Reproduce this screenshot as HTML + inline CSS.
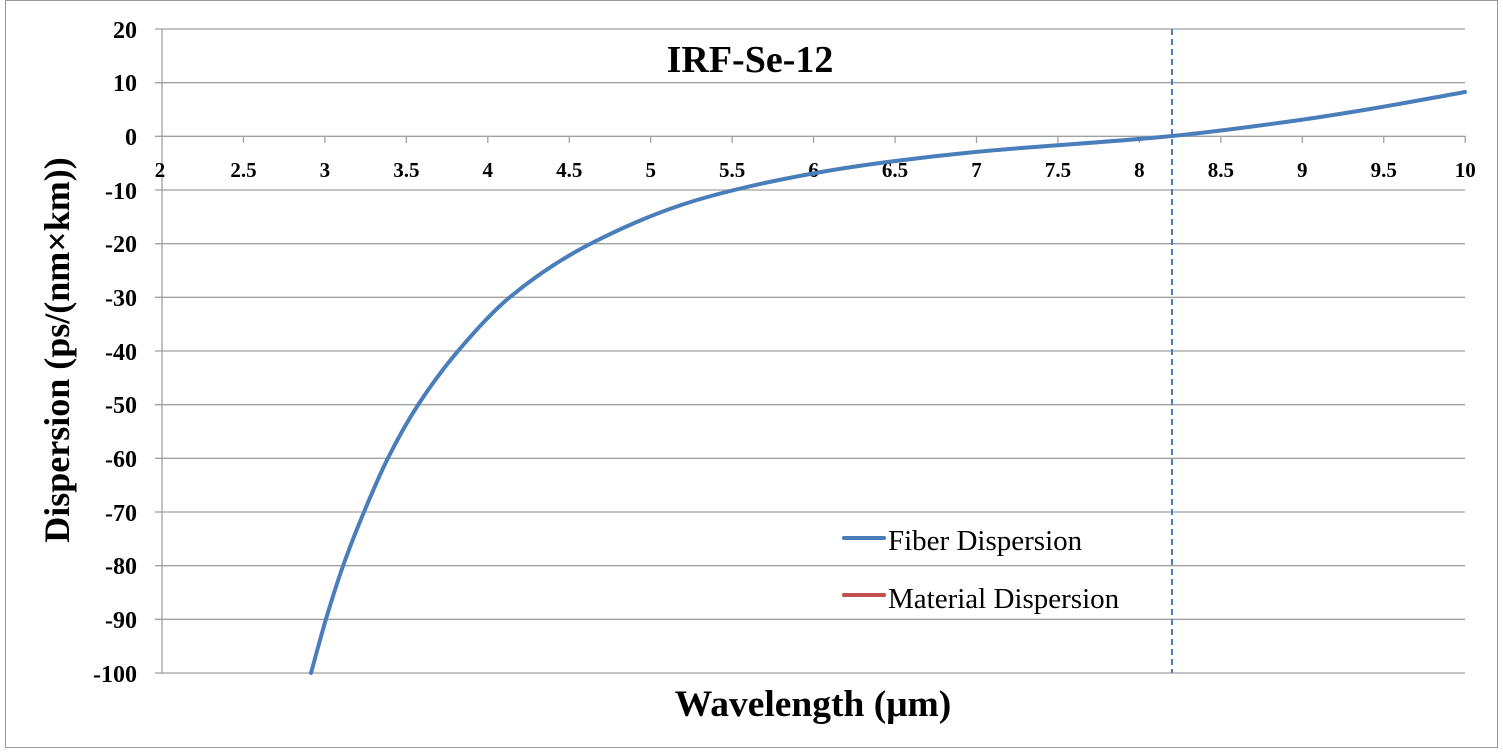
<!DOCTYPE html>
<html><head><meta charset="utf-8"><style>
html,body{margin:0;padding:0;background:#fff}
svg{display:block}
text{font-family:"Liberation Serif",serif}
</style></head><body>
<svg width="1503" height="752" xmlns="http://www.w3.org/2000/svg">
<rect x="5.5" y="0.5" width="1492" height="747" fill="#fff" stroke="#999" stroke-width="1"/>
<g stroke="#a0a0a0" stroke-width="1.3">
<line x1="155" y1="29" x2="1465" y2="29"/>
<line x1="155" y1="82.7" x2="1465" y2="82.7"/>
<line x1="155" y1="190" x2="1465" y2="190"/>
<line x1="155" y1="243.7" x2="1465" y2="243.7"/>
<line x1="155" y1="297.3" x2="1465" y2="297.3"/>
<line x1="155" y1="351" x2="1465" y2="351"/>
<line x1="155" y1="404.7" x2="1465" y2="404.7"/>
<line x1="155" y1="458.3" x2="1465" y2="458.3"/>
<line x1="155" y1="512" x2="1465" y2="512"/>
<line x1="155" y1="565.7" x2="1465" y2="565.7"/>
<line x1="155" y1="619.3" x2="1465" y2="619.3"/>
<line x1="155" y1="673" x2="1465" y2="673"/>
<line x1="155" y1="136.3" x2="1465" y2="136.3"/>
<line x1="162" y1="29" x2="162" y2="673"/>
</g>
<g stroke="#a0a0a0" stroke-width="1.3" id="ticks"></g>
<g font-size="24" font-weight="bold" text-anchor="end">
<text x="137" y="38">20</text><text x="137" y="91">10</text><text x="137" y="145">0</text>
<text x="137" y="199">-10</text><text x="137" y="252">-20</text><text x="137" y="306">-30</text>
<text x="137" y="360">-40</text><text x="137" y="413">-50</text><text x="137" y="467">-60</text>
<text x="137" y="521">-70</text><text x="137" y="574">-80</text><text x="137" y="628">-90</text>
<text x="137" y="682">-100</text>
</g>
<g font-size="21" font-weight="bold" text-anchor="middle" id="xl"></g>
<text x="750" y="72" font-size="38" font-weight="bold" text-anchor="middle">IRF-Se-12</text>
<text x="813" y="716" font-size="37.5" font-weight="bold" text-anchor="middle">Wavelength (μm)</text>
<text transform="translate(69,350) rotate(-90)" font-size="36" font-weight="bold" text-anchor="middle">Dispersion (ps/(nm×km))</text>
<line x1="1172" y1="29" x2="1172" y2="673" stroke="#4a7ebb" stroke-width="2" stroke-dasharray="6,4"/>
<path id="curve" fill="none" stroke="#4a7ebb" stroke-width="4" stroke-linecap="round"/>
<line x1="844" y1="538" x2="884" y2="538" stroke="#4a7ebb" stroke-width="4" stroke-linecap="round"/>
<line x1="844" y1="595" x2="884" y2="595" stroke="#c0504d" stroke-width="4" stroke-linecap="round"/>
<text x="888" y="550" font-size="29">Fiber Dispersion</text>
<text x="888" y="608" font-size="29">Material Dispersion</text>
</svg>
<script>
var ns="http://www.w3.org/2000/svg";
var t=document.getElementById("ticks"),xl=document.getElementById("xl");
for(var i=0;i<=16;i++){var v=2+i*0.5,x=162+(v-2)*162.9;
if(i>0){var l=document.createElementNS(ns,"line");l.setAttribute("x1",x);l.setAttribute("x2",x);l.setAttribute("y1",136);l.setAttribute("y2",143);t.appendChild(l);}
var tx=document.createElementNS(ns,"text");tx.setAttribute("x",i==0?160:x);tx.setAttribute("y",177);tx.textContent=String(v);xl.appendChild(tx);}
var P=[[311,673],[326,619],[343,566],[364,512],[388,458],[418,405],[458,351],[510,297],[590,244],[697,200],[810,174],[880,163],[975,152],[1172,136],[1300,120],[1370,109],[1465,92]];
var n=P.length,dl=[],m=[];
for(var i=0;i<n-1;i++)dl.push((P[i+1][1]-P[i][1])/(P[i+1][0]-P[i][0]));
m[0]=dl[0];m[n-1]=dl[n-2];
for(var i=1;i<n-1;i++){if(dl[i-1]*dl[i]<=0)m[i]=0;else{var h0=P[i][0]-P[i-1][0],h1=P[i+1][0]-P[i][0];var w1=2*h1+h0,w2=h1+2*h0;m[i]=(w1+w2)/(w1/dl[i-1]+w2/dl[i]);}}
var d="M"+P[0][0]+","+P[0][1];
for(var i=0;i<n-1;i++){var h=P[i+1][0]-P[i][0];
d+=" C"+(P[i][0]+h/3)+","+(P[i][1]+m[i]*h/3)+" "+(P[i+1][0]-h/3)+","+(P[i+1][1]-m[i+1]*h/3)+" "+P[i+1][0]+","+P[i+1][1];}
document.getElementById("curve").setAttribute("d",d);
</script>
</body></html>
